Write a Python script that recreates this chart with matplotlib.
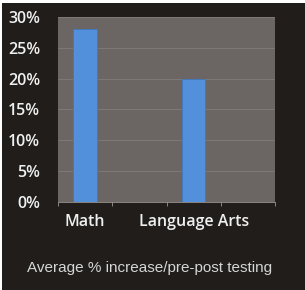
import matplotlib
matplotlib.use("Agg")
import matplotlib.pyplot as plt
from matplotlib.patches import Rectangle
from matplotlib import font_manager

categories = ["Math", "", "Language Arts", ""]
values = [28, None, 20, None]
yticks = [0, 5, 10, 15, 20, 25, 30]
ytick_labels = ["0%", "5%", "10%", "15%", "20%", "25%", "30%"]
title = "Average % increase/pre-post testing"

names = {f.name for f in font_manager.fontManager.ttflist}
narrow = "Liberation Sans Narrow" if "Liberation Sans Narrow" in names else "Liberation Sans"

W, H = 305, 290
fig = plt.figure(figsize=(W / 100, H / 100), dpi=100)
fig.patch.set_facecolor("white")
bg = Rectangle((2 / W, 0), 1 - 2 / W, 1 - 3 / H, transform=fig.transFigure,
               facecolor="#201d1b", edgecolor="none", zorder=-5)
fig.add_artist(bg)

ax = fig.add_axes([58 / W, 1 - 202 / H, (275 - 58) / W, (202 - 17) / H])
ax.set_zorder(1)
ax.set_facecolor("#6b6563")

xs = [i for i, v in enumerate(values) if v is not None]
vs = [v for v in values if v is not None]
ax.bar(xs, vs, width=0.43, color="#5290dc", edgecolor="#3f78c2", linewidth=0.6, zorder=3)

ax.set_xlim(-0.5, len(categories) - 0.5)
ax.set_ylim(0, 30)
ax.set_yticks(yticks)
ax.set_yticklabels(ytick_labels)
ax.set_xticks(range(len(categories)))
ax.set_xticklabels(categories)
ax.set_xticks([i - 0.5 for i in range(len(categories) + 1)], minor=True)
ax.tick_params(axis="x", which="major", length=0, pad=9, labelsize=11.5, labelcolor="#f0f0f0")
ax.tick_params(axis="x", which="minor", length=3, color="#9a9692", width=0.6)
ax.tick_params(axis="y", length=0, pad=13, labelsize=11.5, labelcolor="#f0f0f0")
for lab in ax.get_xticklabels() + ax.get_yticklabels():
    lab.set_family(["Open Sans", "DejaVu Sans"])
    lab.set_fontweight("semibold")
ax.grid(axis="y", color="#858080", linewidth=0.5, zorder=1)
ax.set_axisbelow(True)
for s in ["top", "right", "left"]:
    ax.spines[s].set_visible(False)
ax.spines["bottom"].set_color("#9a9692")
ax.spines["bottom"].set_linewidth(0.6)

fig.text(150 / W, 1 - 268 / H, title, ha="center", va="center",
         fontsize=12 if narrow.endswith("Narrow") else 11,
         color="#d6d6d6", family=[narrow, "DejaVu Sans"])

fig.savefig("out.png", dpi=100, facecolor=fig.get_facecolor())
